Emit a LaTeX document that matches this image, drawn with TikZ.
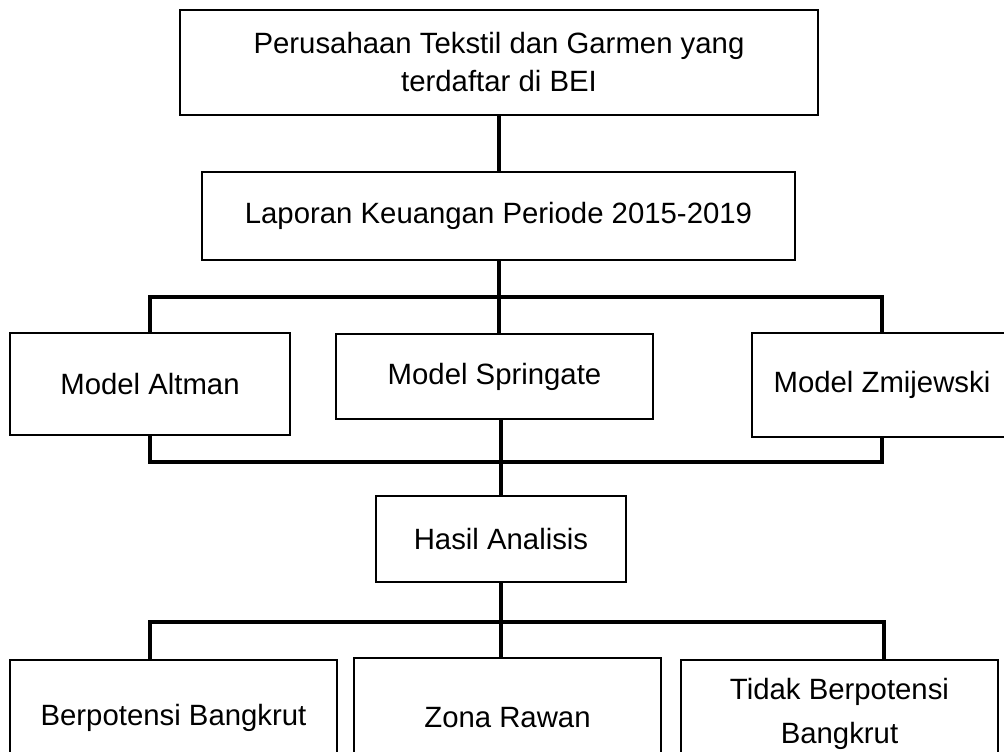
\documentclass[tikz,border=0pt]{standalone}
\usepackage{fontspec}
\setmainfont{Liberation Sans}
\begin{document}
\begin{tikzpicture}[x=0.75pt,y=-0.75pt,
  box/.style={draw=black,line width=1.5pt,fill=white,inner sep=0pt,align=center,
    font=\fontsize{22}{28.5}\selectfont},
  conn/.style={draw=black,line width=2.4pt}]
\useasboundingbox (0,0) rectangle (1004,752);
\clip (0,0) rectangle (1004,752);
\fill[white] (0,0) rectangle (1004,752);
% nodes
\node[box,minimum width=478.5pt,minimum height=78.75pt] (top) at (499,62.5) {Perusahaan Tekstil dan Garmen yang\\terdaftar di BEI};
\node[box,minimum width=444.75pt,minimum height=66pt] (lap) at (498.5,216) {Laporan Keuangan Periode 2015-2019};
\node[box,minimum width=210pt,minimum height=76.5pt] (alt) at (150,384) {Model Altman};
\node[box,minimum width=237.75pt,minimum height=63.75pt] (spr) at (494.5,376.5) {Model Springate};
\node[box,minimum width=195pt,minimum height=78pt] (zmi) at (882,385) {Model Zmijewski};
\node[box,minimum width=187.5pt,minimum height=64.5pt] (has) at (501,539) {Hasil Analisis};
\node[box,minimum width=245.25pt,minimum height=87pt] (ber) at (173.5,718) {Berpotensi Bangkrut};
\node[box,minimum width=230.25pt,minimum height=90pt] (zon) at (507.5,718) {Zona Rawan};
\node[box,minimum width=238pt,minimum height=81pt,font=\fontsize{22}{33}\selectfont] (tid) at (839.5,714) {Tidak Berpotensi\\Bangkrut};
% bus coordinates
\coordinate (b1) at (499,297);
\coordinate (b2) at (501,462);
\coordinate (b3) at (501,622);
\coordinate (b3l) at (150,622);
\coordinate (b3r) at (884,622);
% connectors
\draw[conn] (top.south) -- (top.south |- lap.north);
\draw[conn] (lap.south -| b1) -- (b1);
\draw[conn] (alt.north) |- (b1) -| (zmi.north);
\draw[conn] (b1) -- (spr.north -| b1);
\draw[conn] (alt.south) |- (b2) -| (zmi.south);
\draw[conn] (spr.south -| b2) -- (b2) -- (has.north);
\draw[conn] (has.south) -- (b3);
\draw[conn] (ber.north -| b3l) -- (b3l) -- (b3r) -- (tid.north -| b3r);
\draw[conn] (b3) -- (zon.north -| b3);
\end{tikzpicture}
\end{document}
